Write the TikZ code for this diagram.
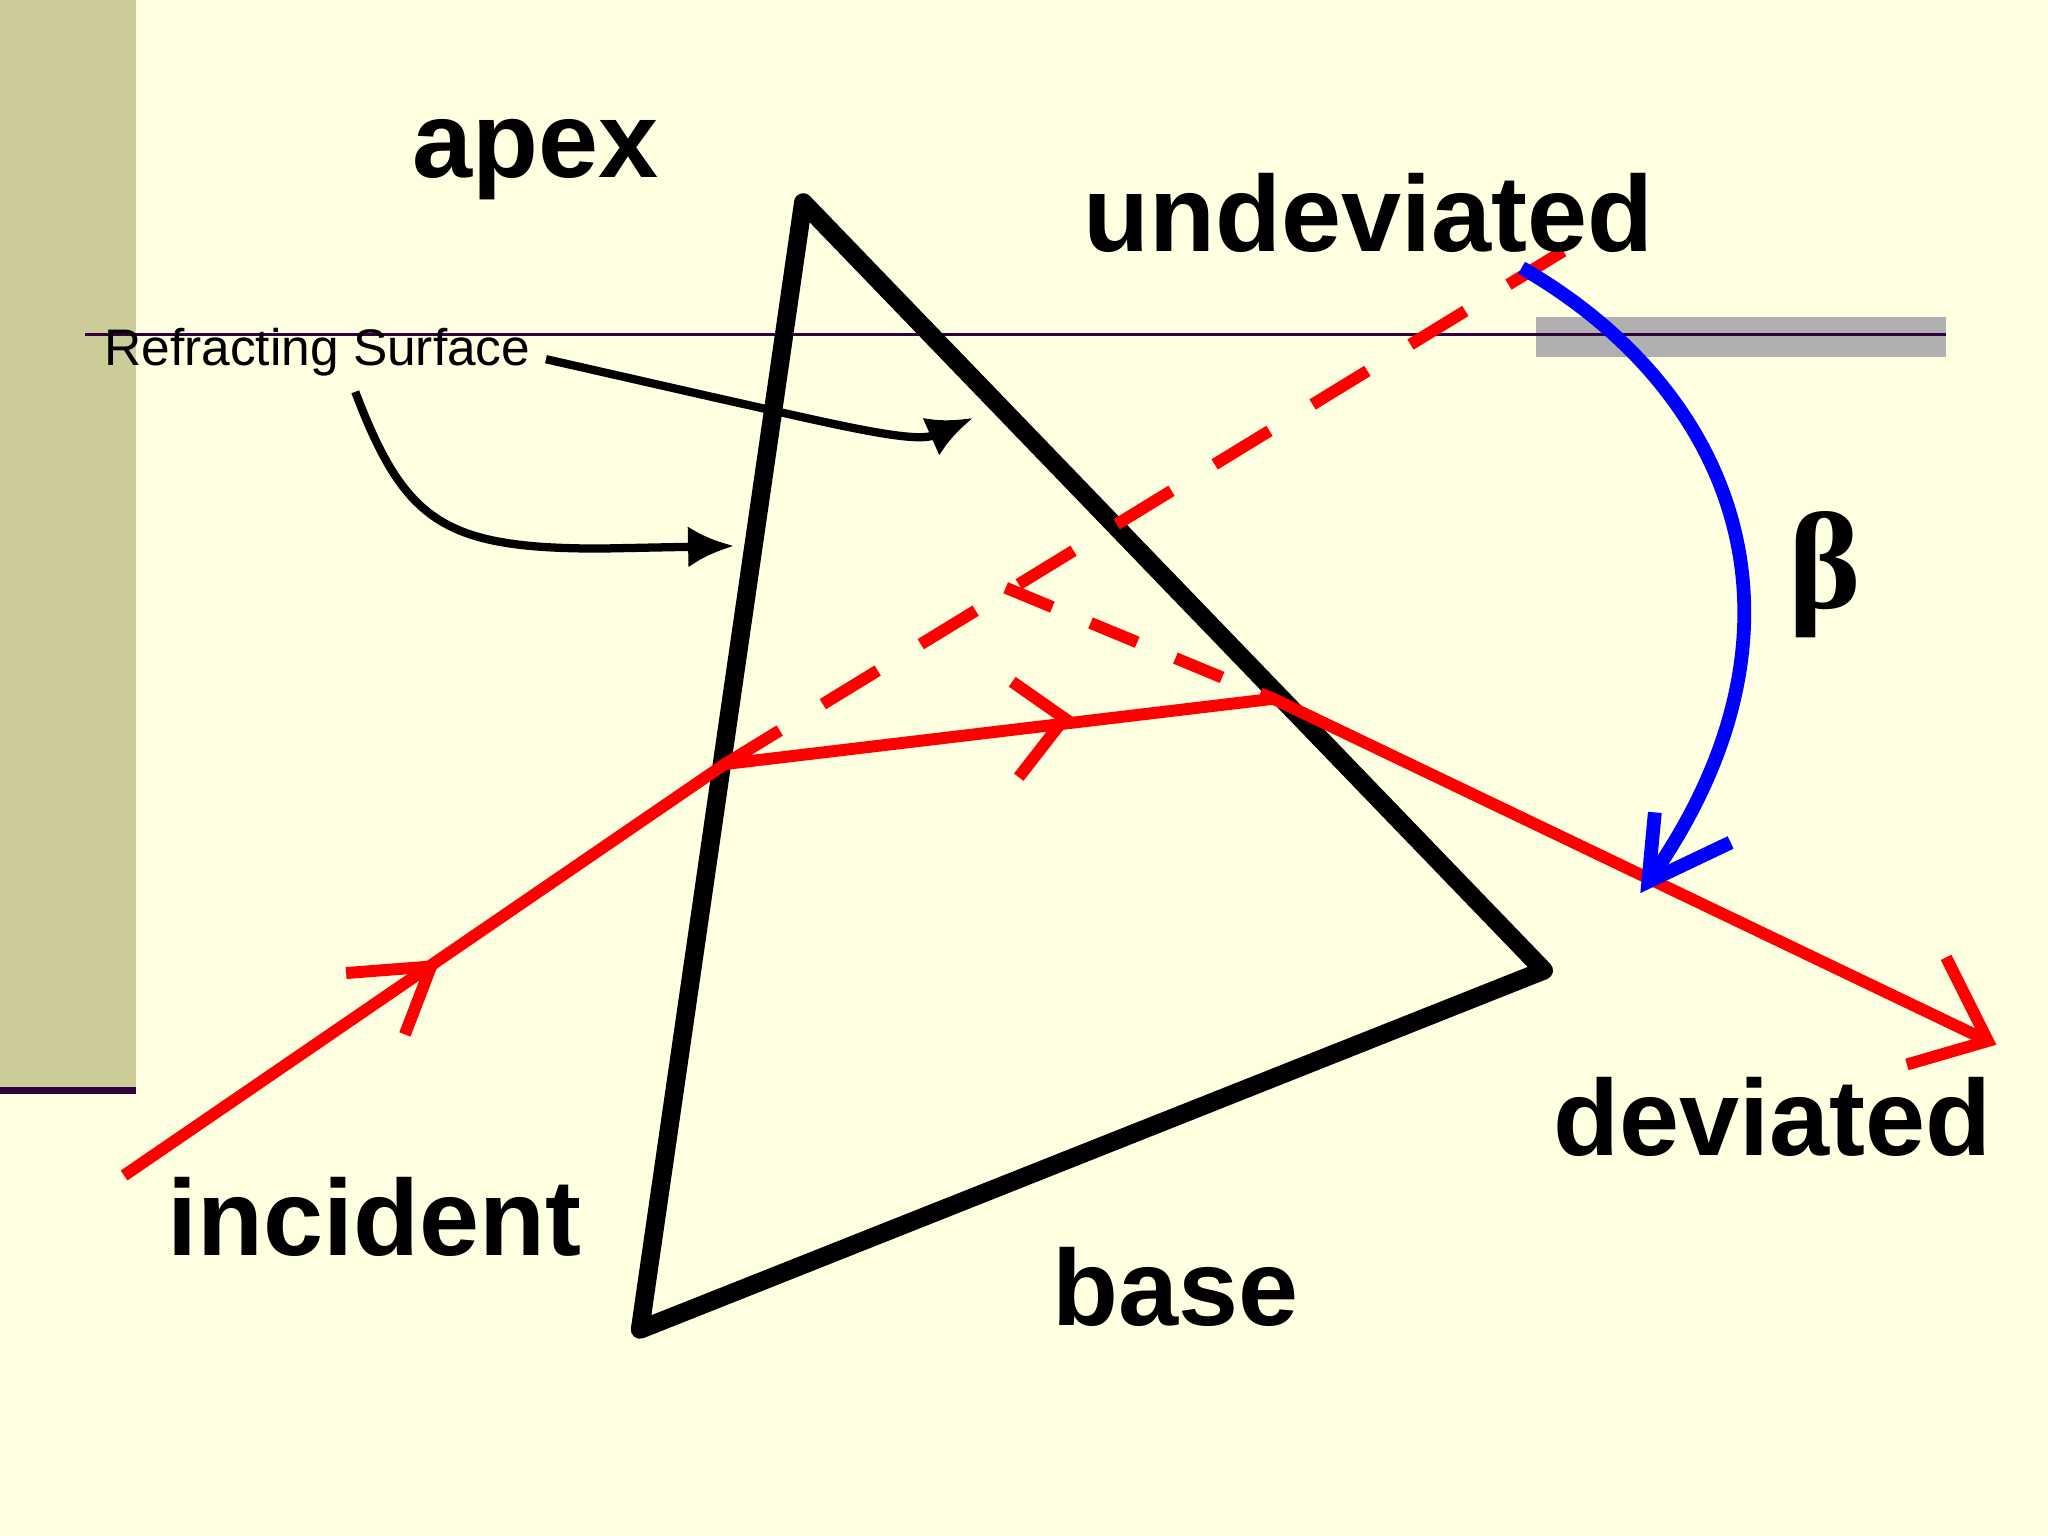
\documentclass[tikz,border=0pt]{standalone}
\usepackage{fontspec}
\setmainfont{Liberation Sans}
\newfontfamily\serifgr{Liberation Serif}
\usetikzlibrary{arrows.meta}
\begin{document}
\begin{tikzpicture}[x=0.01cm,y=-0.01cm,
  ray/.style={draw=red,line width=2.6pt},
  prism/.style={draw=black,line width=4pt,line join=round,line cap=round},
  lbl/.style={font=\fontsize{23.5}{26}\selectfont\bfseries,inner sep=0pt},
  blk/.style={draw=black,line width=1.8pt}]
\fill[fill={rgb,255:red,254;green,254;blue,224}] (0,0) rectangle (1568,1176);
\useasboundingbox (0,0) rectangle (1568,1176);
\fill[fill={rgb,255:red,204;green,204;blue,153}] (0,0) rectangle (104,835);
\draw[draw={rgb,255:red,50;green,0;blue,60},line width=1.5pt] (0,835) -- (104,835);
\fill[fill={rgb,255:red,176;green,176;blue,176}] (1176,243) rectangle (1490,273);
\draw[draw={rgb,255:red,50;green,0;blue,60},line width=0.8pt] (65,256) -- (1490,256);
% prism
\coordinate (A) at (615,155);
\coordinate (B) at (490,1018);
\coordinate (C) at (1182,743);
\draw[prism] (A) -- (B) -- (C) -- cycle;
% rays
\coordinate (I0) at (95,900);
\coordinate (I1) at (555,585);
\coordinate (I2) at (975,535);
\coordinate (I3) at (1522,797);
\coordinate (U) at (1225,175);
\coordinate (D0) at (770,450);
\draw[ray] (I0) -- (I1) -- (I2) -- (I3);
\draw[ray,dash pattern=on 14pt off 11pt] (I1) -- (U);
\draw[ray,dash pattern=on 11pt off 9pt] (D0) -- (I2);
% chevrons
\coordinate (c1) at (330,740);
\draw[ray] (265,745) -- (c1) -- (310,792);
\coordinate (c2) at (815,550);
\draw[ray] (775,522) -- (c2) -- (780,595);
\draw[ray] (1490,733) -- (I3) -- (1460,815);
% blue arc
\coordinate (b0) at (1165,205);
\coordinate (b1) at (1262,675);
\draw[draw=blue,line width=3pt] (b0) .. controls (1330,300) and (1400,480) .. (b1);
\draw[draw=blue,line width=3pt] (1267,622) -- (b1) -- (1325,645);
% refracting surface arrows
\node[font=\fontsize{11.2}{13}\selectfont,inner sep=0pt] (rs) at (243,270) {Refracting Surface};
\coordinate (r1) at (418,275);
\coordinate (r2) at (745,320);
\draw[blk,-{Latex[length=10pt,width=9pt]}] (r1) -- (550,305) .. controls (640,325) and (700,340) .. (r2);
\coordinate (r3) at (272,300);
\coordinate (r4) at (562,418);
\draw[blk,-{Latex[length=10pt,width=9pt]}] (r3) .. controls (310,400) and (340,420) .. (460,420) -- (r4);
% labels
\node[lbl] (apex) at (410,122) {apex};
\node[lbl] (und) at (1048,163) {undeviated};
\node[lbl] (dev) at (1357,855) {deviated};
\node[lbl] (inc) at (287,932) {incident};
\node[lbl] (base) at (900,985) {base};
\node[font=\fontsize{30}{32}\selectfont\serifgr\bfseries,inner sep=0pt] (beta) at (1397,440) {β};
\end{tikzpicture}
\end{document}
